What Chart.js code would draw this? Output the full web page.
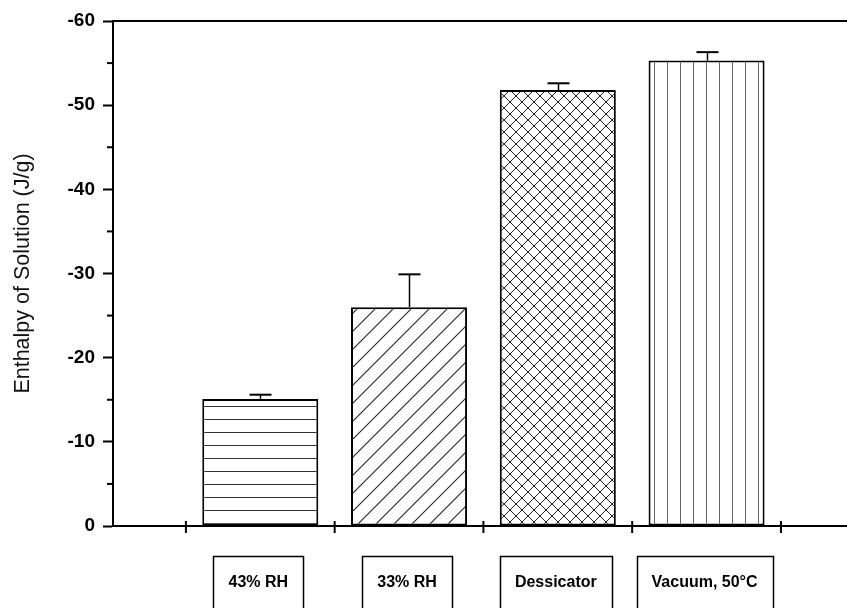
<!DOCTYPE html>
<html>
<head>
<meta charset="utf-8">
<script src="https://cdn.jsdelivr.net/npm/chart.js@4.4.1/dist/chart.umd.min.js"></script>
<style>
  html, body { margin: 0; padding: 0; background: #fff; }
  #wrap { width: 847px; height: 608px; }
</style>
</head>
<body>
<div id="wrap"><canvas id="c" width="847" height="608"></canvas></div>
<script>
// Drying condition of each sample
const categories = ['43% RH', '33% RH', 'Dessicator', 'Vacuum, 50°C'];
// Enthalpy of solution (J/g) and upper error (J/g)
const enthalpy = [-15.1, -26.0, -51.8, -55.3];
const errorUp = [0.5, 3.9, 0.8, 1.0];
// Axis ticks
const yMajorTicks = [0, -10, -20, -30, -40, -50, -60];
const yMinorTicks = [-5, -15, -25, -35, -45, -55];
const xBoundaryTicks = [0.5, 1.5, 2.5, 3.5, 4.5];

const FONT = "'Liberation Sans', Arial, Helvetica, sans-serif";
const canvas = document.getElementById('c');
const ctx2d = canvas.getContext('2d');

// Hatch fills for the four bars
function makePattern(w, h, draw) {
  const t = document.createElement('canvas');
  t.width = w; t.height = h;
  const g = t.getContext('2d');
  g.fillStyle = '#fff';
  g.fillRect(0, 0, w, h);
  draw(g, w, h);
  return ctx2d.createPattern(t, 'repeat');
}
function wrapLine(g, w, h, x1, y1, x2, y2) {
  for (const dx of [-w, 0, w]) {
    for (const dy of [-h, 0, h]) {
      g.beginPath();
      g.moveTo(x1 + dx, y1 + dy);
      g.lineTo(x2 + dx, y2 + dy);
      g.stroke();
    }
  }
}
const hatchHorizontal = makePattern(13, 13, (g, w) => {
  g.fillStyle = '#333';
  g.fillRect(0, 3, w, 1);
});
const hatchDiagonal = makePattern(18, 18, (g, w, h) => {
  g.strokeStyle = '#222';
  g.lineWidth = 1.1;
  wrapLine(g, w, h, 0, h, w, 0);
});
const hatchCross = makePattern(12, 12, (g, w, h) => {
  g.strokeStyle = '#222';
  g.lineWidth = 1;
  wrapLine(g, w, h, 0, 0, w, h);
  wrapLine(g, w, h, w, 0, 0, h);
});
const hatchVertical = makePattern(13, 13, (g, w, h) => {
  g.fillStyle = '#666';
  g.fillRect(4, 0, 1, h);
});
const fills = [hatchHorizontal, hatchDiagonal, hatchCross, hatchVertical];

// Upward error bars with caps
const errorBars = {
  id: 'errorBars',
  afterDatasetsDraw(chart) {
    const { ctx, scales: { x, y } } = chart;
    ctx.save();
    ctx.strokeStyle = '#000';
    enthalpy.forEach((v, i) => {
      const px = Math.round(x.getPixelForValue(i + 1)) + 0.5;
      const top = y.getPixelForValue(v);
      const end = y.getPixelForValue(v - errorUp[i]);
      ctx.lineWidth = 1.5;
      ctx.beginPath();
      ctx.moveTo(px, top);
      ctx.lineTo(px, end);
      ctx.stroke();
      ctx.lineWidth = 2;
      ctx.beginPath();
      ctx.moveTo(px - 11, end);
      ctx.lineTo(px + 11, end);
      ctx.stroke();
    });
    ctx.restore();
  }
};

// Frame top line, minor ticks, category ticks and boxed category labels
const frameAndLabels = {
  id: 'frameAndLabels',
  afterDraw(chart) {
    const { ctx, chartArea: area, scales: { x, y } } = chart;
    ctx.save();
    ctx.strokeStyle = '#000';
    ctx.lineWidth = 2;
    // top frame line
    ctx.beginPath();
    ctx.moveTo(area.left, area.top);
    ctx.lineTo(area.right, area.top);
    ctx.stroke();
    // minor y ticks
    yMinorTicks.forEach(v => {
      const py = y.getPixelForValue(v);
      ctx.beginPath();
      ctx.moveTo(area.left - 6, py);
      ctx.lineTo(area.left, py);
      ctx.stroke();
    });
    // x ticks crossing the axis at category boundaries
    xBoundaryTicks.forEach(v => {
      const px = x.getPixelForValue(v);
      ctx.beginPath();
      ctx.moveTo(px, area.bottom - 5);
      ctx.lineTo(px, area.bottom + 7);
      ctx.stroke();
    });
    // category labels in boxes
    ctx.font = `bold 16px ${FONT}`;
    ctx.textAlign = 'center';
    ctx.textBaseline = 'middle';
    ctx.fillStyle = '#000';
    ctx.lineWidth = 1.5;
    categories.forEach((label, i) => {
      const cx = x.getPixelForValue(i + 1) - 2;
      const tw = ctx.measureText(label).width;
      const bw = Math.round(tw + 30);
      const bx = Math.round(cx - bw / 2) + 0.5;
      ctx.strokeRect(bx, 556.5, bw, 60);
      ctx.fillText(label, cx, 583);
    });
    ctx.restore();
  }
};

new Chart(canvas, {
  type: 'bar',
  data: {
    datasets: [{
      data: enthalpy.map((v, i) => ({ x: i + 1, y: v })),
      backgroundColor: fills,
      borderColor: '#000',
      borderWidth: 2,
      borderSkipped: false,
      barPercentage: 0.78,
      categoryPercentage: 1
    }]
  },
  options: {
    responsive: false,
    animation: false,
    devicePixelRatio: 1,
    layout: { padding: { top: 21, left: 0, right: 0, bottom: 0 } },
    plugins: { legend: { display: false }, tooltip: { enabled: false } },
    scales: {
      x: {
        type: 'linear',
        position: 'bottom',
        offset: false,
        min: 0.01,
        max: 4.944,
        afterBuildTicks: s => { s.ticks = xBoundaryTicks.map(v => ({ value: v })); },
        ticks: { display: false },
        grid: { display: false, offset: false },
        border: { display: true, color: '#000', width: 2 },
        afterFit: s => { s.height = 82; }
      },
      y: {
        type: 'linear',
        position: 'left',
        reverse: true,
        min: -60,
        max: 0,
        afterBuildTicks: s => { s.ticks = yMajorTicks.map(v => ({ value: v })); },
        ticks: {
          autoSkip: false,
          padding: 8,
          color: '#000',
          font: { family: FONT, size: 19, weight: 'bold' },
          callback: v => String(v)
        },
        grid: { drawOnChartArea: false, tickLength: 10, tickWidth: 2, tickColor: '#000' },
        border: { display: true, color: '#000', width: 2 },
        title: {
          display: true,
          text: 'Enthalpy of Solution (J/g)',
          color: '#111',
          font: { family: FONT, size: 21.5, weight: 'normal' },
          padding: { top: 10, bottom: 0 },
          align: 'center'
        },
        afterFit: s => { s.width = 113; }
      }
    }
  },
  plugins: [errorBars, frameAndLabels]
});
</script>
</body>
</html>
